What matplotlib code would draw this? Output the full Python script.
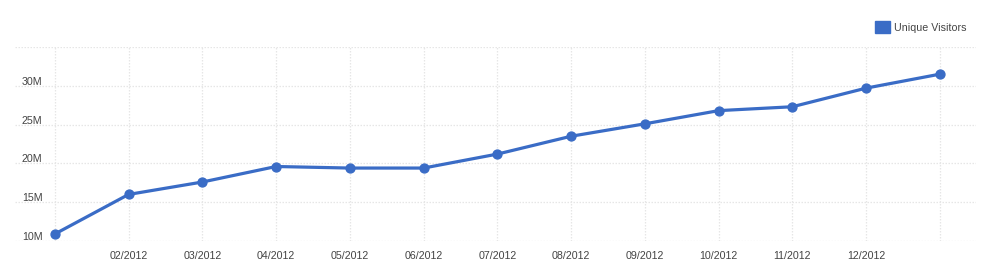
import matplotlib
matplotlib.use("Agg")
import matplotlib.pyplot as plt
import matplotlib.patches as mpatches
import matplotlib.transforms as mtransforms

plt.rcParams['font.family'] = ['Liberation Sans', 'DejaVu Sans']

months = ["01/2012", "02/2012", "03/2012", "04/2012", "05/2012", "06/2012", "07/2012",
          "08/2012", "09/2012", "10/2012", "11/2012", "12/2012", "01/2013"]
visitors = [10.9, 16.0, 17.6, 19.6, 19.4, 19.4, 21.2, 23.5, 25.1, 26.8, 27.3, 29.7, 31.5]
x_tick_labels = ["", "02/2012", "03/2012", "04/2012", "05/2012", "06/2012", "07/2012",
                 "08/2012", "09/2012", "10/2012", "11/2012", "12/2012", ""]
y_ticks = [10, 15, 20, 25, 30, 35]
y_tick_labels = ["10M", "15M", "20M", "25M", "30M", ""]
series_name = "Unique Visitors"

W, H = 992, 279
fig = plt.figure(figsize=(W / 100, H / 100), dpi=100)
ax = fig.add_axes([15 / W, (H - 241) / H, (976 - 15) / W, (241 - 47) / H])

line_color = "#3a6cc6"
text_color = "#444444"
grid_color = "#e6e6e6"

xs = list(range(len(months)))
ax.plot(xs, visitors, color=line_color, lw=2.3, marker="o", markersize=6.4,
        solid_joinstyle="round", zorder=3, label=series_name)

ax.set_xlim(-0.54, 12.49)
ax.set_ylim(10, 35)
ax.set_xticks(xs)
ax.set_xticklabels(x_tick_labels)
ax.set_yticks(y_ticks)
ax.set_yticklabels(y_tick_labels)

ax.grid(True, color=grid_color, linestyle=(0, (1.2, 1.2)), linewidth=0.9)
ax.set_axisbelow(True)
for s in ax.spines.values():
    s.set_visible(False)

ax.tick_params(axis="x", length=0, pad=7, labelsize=7.7, labelcolor=text_color)
ax.tick_params(axis="y", length=0, pad=-5, labelsize=7.7, labelcolor=text_color)
offset = mtransforms.ScaledTranslation(0, 5 / 100, fig.dpi_scale_trans)
for lab in ax.get_yticklabels():
    lab.set_horizontalalignment("left")
    lab.set_transform(lab.get_transform() + offset)

handle = mpatches.Patch(color=line_color, label=series_name)
fig.legend(handles=[handle], loc="center right",
           bbox_to_anchor=(967 / W, 1 - 27 / H), frameon=False,
           fontsize=7.7, handlelength=1.4, handleheight=1.3,
           handletextpad=0.45, borderpad=0, borderaxespad=0,
           labelcolor=text_color)

fig.savefig("out.png", dpi=100, facecolor="white")
